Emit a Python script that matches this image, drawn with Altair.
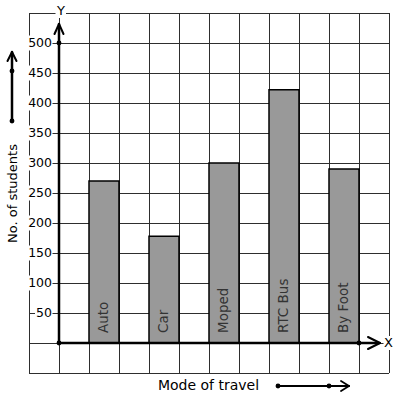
import altair as alt
import pandas as pd

# ---------------- data ----------------
categories = ["Auto", "Car", "Moped", "RTC Bus", "By Foot"]
students = [270, 178, 300, 422, 290]
y_tick_values = [50, 100, 150, 200, 250, 300, 350, 400, 450, 500]
x_title = "Mode of travel"
y_title = "No. of students"
x_axis_name = "X"
y_axis_name = "Y"

FONT = "DejaVu Sans"
GRID = "#2e2e2e"

# page geometry helpers (page pixels -> data units)
X0_PX, Y0_PX = 59, 343   # origin on page
UX, UY = 30, 0.6          # px per x unit, px per student


def dx(px):
    return (px - X0_PX) / UX


def dy(py):
    return (Y0_PX - py) / UY


xs = alt.Scale(domain=[-1, 11], nice=False, zero=False)
ys = alt.Scale(domain=[-50, 550], nice=False, zero=False)


def X(f):
    return alt.X(f, scale=xs, axis=None)


def Y(f):
    return alt.Y(f, scale=ys, axis=None)


# ---------------- graph-paper grid ----------------
vgrid_df = pd.DataFrame({"g": list(range(-1, 12))})
hgrid_df = pd.DataFrame({"g": list(range(-50, 551, 50))})
vgrid = alt.Chart(vgrid_df).mark_rule(color=GRID, strokeWidth=1, xOffset=0.5).encode(x=X("g:Q"))
hgrid = alt.Chart(hgrid_df).mark_rule(color=GRID, strokeWidth=1, yOffset=0.5).encode(y=Y("g:Q"))

# ---------------- bars ----------------
bars_df = pd.DataFrame({"mode": categories, "students": students})
bars_df["x0"] = [2 * i + 1 for i in range(len(categories))]
bars_df["x1"] = bars_df["x0"] + 1
bars_df["xc"] = bars_df["x0"] + 0.5
bars_df["base"] = 0

bars = alt.Chart(bars_df).mark_rect(color="#999999", stroke="black", strokeWidth=1.5).encode(
    x=X("x0:Q"), x2="x1:Q", y=Y("base:Q"), y2="students:Q",
)

bar_text = alt.Chart(bars_df).mark_text(
    angle=270, align="left", baseline="middle", dx=10, font=FONT, fontSize=13.5, color="#333333"
).encode(x=X("xc:Q"), y=Y("base:Q"), text="mode:N")

# ---------------- y tick labels ----------------
tick_labels = [str(v) for v in y_tick_values]
ticks_df = pd.DataFrame({"v": y_tick_values, "label": tick_labels})
ticks_df["bx0"] = [dx(52 - 7.5 * len(s) - 2) for s in tick_labels]
ticks_df["bx1"] = dx(52.5)
ticks_df["by0"] = ticks_df["v"] - 7.5 / UY
ticks_df["by1"] = ticks_df["v"] + 7.5 / UY
ticks_df["lx"] = dx(52)

tick_bg = alt.Chart(ticks_df).mark_rect(color="white").encode(
    x=X("bx0:Q"), x2="bx1:Q", y=Y("by0:Q"), y2="by1:Q")
tick_txt = alt.Chart(ticks_df).mark_text(
    align="right", baseline="middle", font=FONT, fontSize=12.5, color="black"
).encode(x=X("lx:Q"), y=Y("v:Q"), text="label:N")

# ---------------- axis lines and arrows (page px) ----------------
segs_px = [
    (59, 343, 59, 24, 2.5),
    (54.5, 34, 59, 24, 2),
    (63.5, 34, 59, 24, 2),
    (59, 343, 379, 343, 2.5),
    (368, 337, 380, 343, 2),
    (368, 349, 380, 343, 2),
    (12, 121, 12, 52, 2.5),
    (7.5, 61, 12, 52, 2),
    (16.5, 61, 12, 52, 2),
    (278, 386, 349, 386, 2),
    (341, 381, 349, 386, 1.8),
    (341, 391, 349, 386, 1.8),
]
seg_df = pd.DataFrame({
    "a": [dx(s[0]) for s in segs_px],
    "b": [dy(s[1]) for s in segs_px],
    "c": [dx(s[2]) for s in segs_px],
    "d": [dy(s[3]) for s in segs_px],
    "w": [s[4] for s in segs_px],
})
segs = alt.Chart(seg_df).mark_rule(color="black", strokeCap="round").encode(
    x=X("a:Q"), y=Y("b:Q"), x2="c:Q", y2="d:Q",
    strokeWidth=alt.StrokeWidth("w:Q", scale=None, legend=None),
)

dots_px = [(59, 343), (59, 43), (359, 343), (12, 121), (12, 71), (278, 386), (329, 386)]
dots_df = pd.DataFrame({"a": [dx(p[0]) for p in dots_px], "b": [dy(p[1]) for p in dots_px]})
dots = alt.Chart(dots_df).mark_circle(color="black", size=24, opacity=1).encode(
    x=X("a:Q"), y=Y("b:Q"))

# ---------------- axis names with white background ----------------
names_df = pd.DataFrame({
    "t": [y_axis_name, x_axis_name],
    "x": [dx(61), dx(388.5)],
    "y": [dy(11), dy(343)],
    "bx0": [dx(55.5), dx(383.5)],
    "bx1": [dx(66), dx(394)],
    "by0": [dy(18), dy(350)],
    "by1": [dy(4), dy(336)],
})
names_bg = alt.Chart(names_df).mark_rect(color="white").encode(
    x=X("bx0:Q"), x2="bx1:Q", y=Y("by0:Q"), y2="by1:Q")
names_txt = alt.Chart(names_df).mark_text(
    align="center", baseline="middle", font=FONT, fontSize=13, color="black"
).encode(x=X("x:Q"), y=Y("y:Q"), text="t:N")

# ---------------- titles ----------------
xt_df = pd.DataFrame({"t": [x_title], "x": [dx(208.5)], "y": [dy(386)]})
xt = alt.Chart(xt_df).mark_text(
    align="center", baseline="middle", font=FONT, fontSize=14, color="black"
).encode(x=X("x:Q"), y=Y("y:Q"), text="t:N")

yt_df = pd.DataFrame({"t": [y_title], "x": [dx(13)], "y": [dy(193.5)]})
yt = alt.Chart(yt_df).mark_text(
    angle=270, align="center", baseline="middle", font=FONT, fontSize=13, color="black"
).encode(x=X("x:Q"), y=Y("y:Q"), text="t:N")

chart = alt.layer(
    vgrid, hgrid, bars, bar_text, tick_bg, tick_txt, segs, dots, names_bg, names_txt, xt, yt
).properties(
    width=360,
    height=360,
    padding={"left": 29, "top": 13, "right": 8, "bottom": 26},
    autosize=alt.AutoSizeParams(type="none"),
    background="white",
).configure_view(stroke=None)

chart.save("out.html", embed_options={"renderer": "svg", "actions": False})
